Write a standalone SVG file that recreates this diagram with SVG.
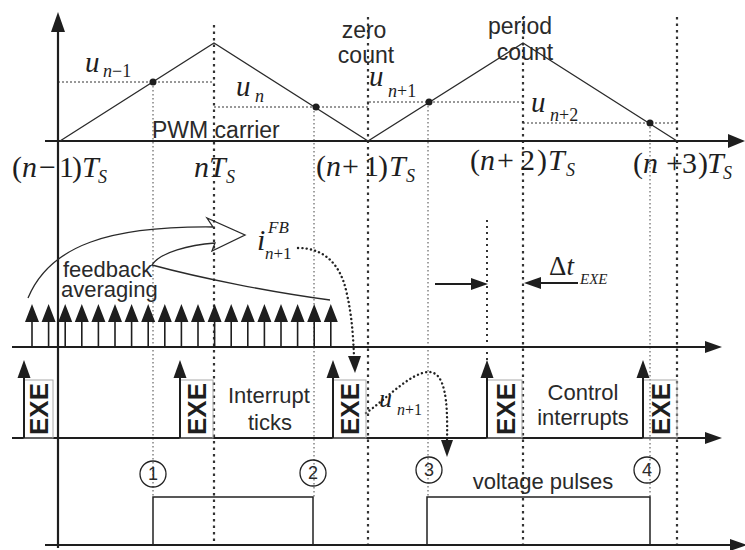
<svg xmlns="http://www.w3.org/2000/svg" width="745" height="550" viewBox="0 0 745 550">
<style>
.ax{stroke:#1e1e1e;stroke-width:2.2;fill:none}
.hd{fill:#1e1e1e}
.tri{stroke:#2a2a2a;stroke-width:1.3;fill:none}
.dk{stroke:#333;stroke-width:2.2;stroke-dasharray:2.5 4;fill:none}
.dt{stroke:#444;stroke-width:1;stroke-dasharray:1.5 2.5;fill:none}
.dm{stroke:#333;stroke-width:2;stroke-dasharray:2 4;fill:none}
.dh{stroke:#333;stroke-width:1;stroke-dasharray:2 2;fill:none}
.dc{stroke:#222;stroke-width:2.4;stroke-dasharray:0.1 4.2;stroke-linecap:round;fill:none}
.sans{font-family:"Liberation Sans",Arial,sans-serif;fill:#2a2a2a}
.ser{font-family:"Liberation Serif","Times New Roman",serif;fill:#1e1e1e}
.it{font-style:italic}
.exe{font-family:"Liberation Sans",Arial,sans-serif;font-weight:bold;font-size:26px;fill:#1e1e1e}
.box{stroke:#aaa;stroke-width:1;fill:none}
.tick{stroke:#1e1e1e;stroke-width:1.6}
.circ{stroke:#222;stroke-width:1.3;fill:none}
.pulse{stroke:#222;stroke-width:1.5;fill:none}
</style>

<g id="gridlines">
<line class="dk" x1="214" y1="25" x2="214" y2="545"/>
<line class="dk" x1="368" y1="17" x2="368" y2="545"/>
<line class="dk" x1="523" y1="17" x2="523" y2="545"/>
<line class="dk" x1="677" y1="17" x2="677" y2="545"/>
<line class="dt" x1="153" y1="82" x2="153" y2="497"/>
<line class="dt" x1="314" y1="107" x2="314" y2="497"/>
<line class="dt" x1="428" y1="102" x2="428" y2="497"/>
<line class="dt" x1="650" y1="123" x2="650" y2="497"/>
<line class="dm" x1="487" y1="220" x2="487" y2="360"/>
<polyline class="dh" points="58,82 214,82"/>
<polyline class="dh" points="214,107 368,107 368,102 523,102"/>
<polyline class="dh" points="523,123 677,123"/>
</g>

<g id="axes">
<line class="ax" x1="58" y1="30" x2="58" y2="548"/>
<polygon class="hd" points="58,12 51,32 65,32"/>
<line class="ax" x1="45" y1="141" x2="730" y2="141" stroke-width="2.6"/>
<polygon class="hd" points="745,141 728,134 728,148"/>
<line class="ax" x1="12" y1="347" x2="708" y2="347"/>
<polygon class="hd" points="722,347 705,341 705,353"/>
<line class="ax" x1="12" y1="438" x2="708" y2="438"/>
<polygon class="hd" points="722,438 705,432 705,444"/>
<line class="ax" x1="45" y1="545" x2="731" y2="545"/>
<polygon class="hd" points="747,545 730,539 730,551"/>
</g>

<g id="carrier">
<polyline class="tri" points="60,141 214,43 368,141 523,43 677,141"/>
<circle cx="153" cy="82" r="3.5" fill="#1e1e1e"/>
<circle cx="316" cy="107" r="3.5" fill="#1e1e1e"/>
<circle cx="429" cy="102" r="3.5" fill="#1e1e1e"/>
<circle cx="650" cy="123" r="3.5" fill="#1e1e1e"/>
<text class="sans" x="152" y="138" font-size="23">PWM carrier</text>
<text class="sans" x="364" y="38" font-size="23" text-anchor="middle">zero</text>
<text class="sans" x="366" y="63" font-size="23" text-anchor="middle">count</text>
<text class="sans" x="520" y="34" font-size="23" text-anchor="middle">period</text>
<text class="sans" x="525" y="60" font-size="23" text-anchor="middle">count</text>
</g>

<g id="u-labels">
<text x="85" y="72" font-size="29" class="ser it">u</text>
<text x="103" y="77" font-size="18" class="ser"><tspan class="it">n</tspan>−1</text>
<text x="236" y="96" font-size="29" class="ser it">u</text>
<text x="255" y="102" font-size="18" class="ser it">n</text>
<text x="369" y="86" font-size="29" class="ser it">u</text>
<text x="388" y="97" font-size="18" class="ser"><tspan class="it">n</tspan>+1</text>
<text x="531" y="112" font-size="29" class="ser it">u</text>
<text x="550" y="121" font-size="18" class="ser"><tspan class="it">n</tspan>+2</text>
</g>

<g id="time-labels">
<text class="ser" y="177" font-size="30"><tspan x="12">(</tspan><tspan x="22" class="it">n</tspan><tspan x="39">−</tspan><tspan x="59">1</tspan><tspan x="72">)</tspan><tspan x="82" class="it">T</tspan><tspan x="98" y="183" font-size="18" class="it">S</tspan></text>
<text class="ser" y="177" font-size="30"><tspan x="194" class="it">n</tspan><tspan x="209" class="it">T</tspan><tspan x="226" y="183" font-size="18" class="it">S</tspan></text>
<text class="ser" y="176" font-size="30"><tspan x="316">(</tspan><tspan x="326" class="it">n</tspan><tspan x="342">+</tspan><tspan x="364">1</tspan><tspan x="378">)</tspan><tspan x="389" class="it">T</tspan><tspan x="406" y="182" font-size="18" class="it">S</tspan></text>
<text class="ser" y="170" font-size="30"><tspan x="470">(</tspan><tspan x="480" class="it">n</tspan><tspan x="497">+</tspan><tspan x="520">2</tspan><tspan x="537">)</tspan><tspan x="548" class="it">T</tspan><tspan x="566" y="176" font-size="18" class="it">S</tspan></text>
<text class="ser" y="173" font-size="30"><tspan x="633">(</tspan><tspan x="643" class="it">n</tspan><tspan x="666">+</tspan><tspan x="682">3</tspan><tspan x="698">)</tspan><tspan x="707" class="it">T</tspan><tspan x="723" y="179" font-size="18" class="it">S</tspan></text>
</g>

<g id="feedback">
<path d="M28,298 C50,245 110,226 213,227 L207,218 L245,235 L212,251 L215,243 C190,245 160,252 152,265 C200,278 270,292 330,300" fill="none" stroke="#2a2a2a" stroke-width="1.3"/>
<text class="sans" x="63" y="277" font-size="22">feedback</text>
<text class="sans" x="61" y="297" font-size="22">averaging</text>
<text class="ser it" x="257" y="250" font-size="30">i</text>
<text class="ser it" x="268" y="233" font-size="17">FB</text>
<text class="ser" x="265" y="259" font-size="17"><tspan class="it">n</tspan>+1</text>
</g>

<g id="connectors">
<path class="dc" d="M298,248 C325,248 340,265 346,290 C352,315 353,335 354,356"/>
<polygon class="hd" points="348,356 361,356 355,373"/>
<path class="dc" d="M366,413 C385,400 410,373 428,372 C445,371 448,400 447,440"/>
<polygon class="hd" points="441,440 453,440 447,457"/>
</g>

<g id="sampling-ticks">
<path class="tick" d="M32,347V320M48.6,347V320M65.2,347V320M81.8,347V320M98.4,347V320M115,347V320M131.6,347V320M148.2,347V320M164.8,347V320M181.4,347V320M198,347V320M214.6,347V320M231.2,347V320M247.8,347V320M264.4,347V320M281,347V320M297.6,347V320M314.2,347V320M330.8,347V320"/>
<path class="hd" d="M32,304l-7,18h14zM48.6,304l-7,18h14zM65.2,304l-7,18h14zM81.8,304l-7,18h14zM98.4,304l-7,18h14zM115,304l-7,18h14zM131.6,304l-7,18h14zM148.2,304l-7,18h14zM164.8,304l-7,18h14zM181.4,304l-7,18h14zM198,304l-7,18h14zM214.6,304l-7,18h14zM231.2,304l-7,18h14zM247.8,304l-7,18h14zM264.4,304l-7,18h14zM281,304l-7,18h14zM297.6,304l-7,18h14zM314.2,304l-7,18h14zM330.8,304l-7,18h14z"/>
</g>

<g id="delta-t">
<line x1="435" y1="284" x2="474" y2="284" stroke="#1e1e1e" stroke-width="2"/>
<polygon class="hd" points="488,284 471,278 471,290"/>
<line x1="538" y1="283" x2="578" y2="283" stroke="#1e1e1e" stroke-width="2"/>
<polygon class="hd" points="524,283 541,277 541,289"/>
<text class="ser" x="549" y="275" font-size="27">Δ<tspan class="it">t</tspan></text>
<text class="ser it" x="580" y="284" font-size="15">EXE</text>
</g>

<g id="interrupts">
<g id="exe1">
<rect class="box" x="24" y="380" width="29" height="58"/>
<line x1="24" y1="438" x2="24" y2="376" stroke="#1e1e1e" stroke-width="2"/>
<polygon class="hd" points="24,360 17.5,378 30.5,378"/>
<text class="exe" transform="translate(48,409) rotate(-90)" text-anchor="middle">EXE</text>
</g>
<g id="exe2">
<rect class="box" x="180" y="380" width="33" height="58"/>
<line x1="180" y1="438" x2="180" y2="376" stroke="#1e1e1e" stroke-width="2"/>
<polygon class="hd" points="180,360 173.5,378 186.5,378"/>
<text class="exe" transform="translate(206,409) rotate(-90)" text-anchor="middle">EXE</text>
</g>
<g id="exe3">
<rect class="box" x="333" y="380" width="33" height="58"/>
<line x1="333" y1="438" x2="333" y2="376" stroke="#1e1e1e" stroke-width="2"/>
<polygon class="hd" points="333,360 326.5,378 339.5,378"/>
<text class="exe" transform="translate(359,409) rotate(-90)" text-anchor="middle">EXE</text>
</g>
<g id="exe4">
<rect class="box" x="487" y="380" width="35" height="58"/>
<line x1="487" y1="438" x2="487" y2="376" stroke="#1e1e1e" stroke-width="2"/>
<polygon class="hd" points="487,360 480.5,378 493.5,378"/>
<text class="exe" transform="translate(515,409) rotate(-90)" text-anchor="middle">EXE</text>
</g>
<g id="exe5">
<rect class="box" x="643" y="380" width="34" height="58"/>
<line x1="643" y1="438" x2="643" y2="376" stroke="#1e1e1e" stroke-width="2"/>
<polygon class="hd" points="643,360 636.5,378 649.5,378"/>
<text class="exe" transform="translate(670,409) rotate(-90)" text-anchor="middle">EXE</text>
</g>
<text class="sans" x="228" y="403" font-size="22">Interrupt</text>
<text class="sans" x="248" y="430" font-size="22">ticks</text>
<text class="sans" x="583" y="400" font-size="22" text-anchor="middle">Control</text>
<text class="sans" x="583" y="425" font-size="22" text-anchor="middle">interrupts</text>
<text class="ser it" x="379" y="407" font-size="26">u</text>
<text class="ser" x="397" y="415" font-size="16"><tspan class="it">n</tspan>+1</text>
</g>

<g id="pulses">
<polyline class="pulse" points="153,545 153,497 313,497 313,545"/>
<polyline class="pulse" points="427,545 427,497 650,497 650,545"/>
<text class="sans" x="543" y="489" font-size="22" text-anchor="middle">voltage pulses</text>
<g id="c1"><circle class="circ" cx="153" cy="474" r="13"/><text class="sans" x="153" y="480" font-size="18" text-anchor="middle">1</text></g>
<g id="c2"><circle class="circ" cx="313" cy="473" r="13"/><text class="sans" x="313" y="479" font-size="18" text-anchor="middle">2</text></g>
<g id="c3"><circle class="circ" cx="429" cy="470" r="13"/><text class="sans" x="429" y="476" font-size="18" text-anchor="middle">3</text></g>
<g id="c4"><circle class="circ" cx="647" cy="470" r="13"/><text class="sans" x="647" y="476" font-size="18" text-anchor="middle">4</text></g>
</g>
</svg>
